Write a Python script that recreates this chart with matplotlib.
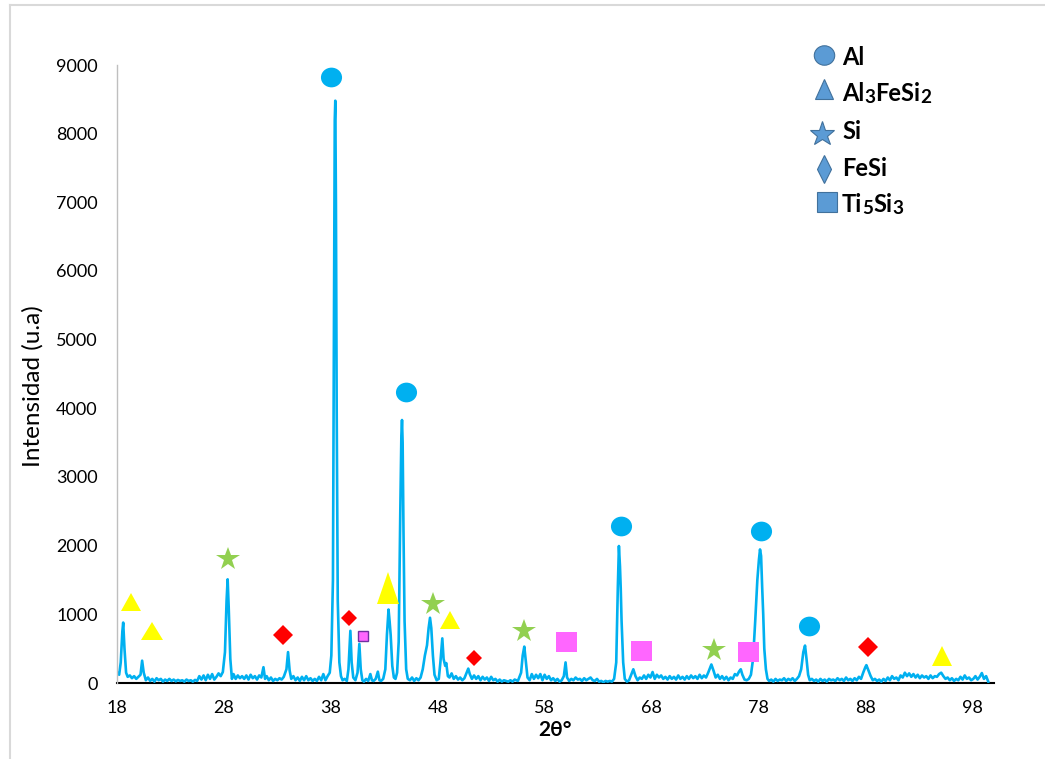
import matplotlib
matplotlib.use("Agg")
import matplotlib.pyplot as plt
from matplotlib.lines import Line2D
from matplotlib.markers import MarkerStyle
from matplotlib.transforms import Affine2D

plt.rcParams['font.family'] = ['Lato', 'DejaVu Sans']

# XRD trace (2theta in degrees, intensity in counts)
two_theta = [
    18.0, 18.2, 18.35, 18.5, 18.58, 18.7, 18.85, 19.0, 19.2, 19.4, 19.6, 19.8,
    20.0, 20.2, 20.35, 20.5, 20.7, 20.9, 21.1, 21.3, 21.5, 21.7, 21.9,
    22.1, 22.3, 22.5, 22.7, 22.9, 23.1, 23.3, 23.5, 23.7, 23.9,
    24.1, 24.3, 24.5, 24.7, 24.9, 25.1, 25.3, 25.5, 25.7, 25.9,
    26.1, 26.3, 26.5, 26.7, 26.9, 27.1, 27.3, 27.5, 27.7, 27.9,
    28.1, 28.25, 28.35, 28.45, 28.6, 28.75, 28.9, 29.1, 29.3, 29.5, 29.7, 29.9,
    30.1, 30.3, 30.5, 30.7, 30.9, 31.1, 31.3, 31.5, 31.7, 31.85,
    32.0, 32.2, 32.4, 32.6, 32.8, 33.0, 33.2, 33.4, 33.6, 33.85,
    34.0, 34.15, 34.3, 34.5, 34.7, 34.9, 35.1, 35.3, 35.5, 35.7, 35.9,
    36.1, 36.3, 36.5, 36.7, 36.9, 37.1, 37.3, 37.5, 37.7, 37.9,
    38.05, 38.2, 38.3, 38.37, 38.42, 38.48, 38.55, 38.65, 38.8, 38.95,
    39.1, 39.3, 39.5, 39.65, 39.83, 39.95, 40.1, 40.3, 40.5, 40.67, 40.8, 40.95,
    41.1, 41.3, 41.5, 41.7, 41.85, 42.0, 42.2, 42.4, 42.55, 42.7, 42.9,
    43.1, 43.25, 43.4, 43.5, 43.6, 43.75, 43.9, 44.05, 44.2, 44.35, 44.5,
    44.6, 44.66, 44.72, 44.8, 44.9, 45.05, 45.2, 45.4, 45.6, 45.8,
    46.0, 46.2, 46.4, 46.6, 46.8, 47.0, 47.15, 47.28, 47.4, 47.55, 47.7, 47.9,
    48.1, 48.25, 48.43, 48.55, 48.7, 48.8, 48.95, 49.1, 49.3, 49.5, 49.7, 49.9,
    50.1, 50.3, 50.5, 50.7, 50.86, 51.0, 51.2, 51.4, 51.6, 51.8,
    52.0, 52.2, 52.4, 52.6, 52.8, 53.0, 53.2, 53.4, 53.6, 53.8,
    54.0, 54.2, 54.4, 54.6, 54.8, 55.0, 55.2, 55.5, 55.8, 55.95,
    56.1, 56.25, 56.4, 56.6, 56.8, 57.0, 57.2, 57.4, 57.6, 57.8,
    58.0, 58.2, 58.4, 58.6, 58.8, 59.0, 59.2, 59.4, 59.6, 59.8, 59.96,
    60.1, 60.3, 60.5, 60.7, 60.9, 61.1, 61.3, 61.5, 61.7, 61.9,
    62.1, 62.3, 62.5, 62.7, 62.9, 63.1, 63.3, 63.5, 63.7, 63.9,
    64.1, 64.3, 64.5, 64.7, 64.85, 64.95, 65.05, 65.12, 65.2, 65.35, 65.5, 65.7, 65.9,
    66.1, 66.3, 66.5, 66.7, 66.9, 67.1, 67.3, 67.5, 67.7, 67.9,
    68.1, 68.3, 68.5, 68.7, 68.9, 69.1, 69.3, 69.5, 69.7, 69.9,
    70.1, 70.3, 70.5, 70.7, 70.9, 71.1, 71.3, 71.5, 71.7, 71.9,
    72.1, 72.3, 72.5, 72.7, 72.9, 73.1, 73.3, 73.6, 73.8,
    74.0, 74.2, 74.4, 74.6, 74.8, 75.0, 75.2, 75.4, 75.6, 75.8,
    76.0, 76.2, 76.35, 76.5, 76.7, 76.9, 77.1, 77.3, 77.5, 77.7, 77.9,
    78.05, 78.15, 78.25, 78.35, 78.45, 78.55, 78.7, 78.85, 79.0, 79.2, 79.4, 79.6, 79.8,
    80.0, 80.2, 80.4, 80.6, 80.8, 81.0, 81.2, 81.4, 81.6, 81.8,
    82.0, 82.2, 82.36, 82.5, 82.65, 82.8, 83.0, 83.2, 83.4, 83.6, 83.8,
    84.0, 84.2, 84.4, 84.6, 84.8, 85.0, 85.2, 85.4, 85.6, 85.8,
    86.0, 86.2, 86.4, 86.6, 86.8, 87.0, 87.2, 87.4, 87.6, 87.8,
    88.0, 88.1, 88.3, 88.5, 88.7, 88.9, 89.1, 89.3, 89.5, 89.7, 89.9,
    90.1, 90.3, 90.5, 90.7, 90.9, 91.1, 91.3, 91.5, 91.7, 91.9,
    92.1, 92.3, 92.5, 92.7, 92.9, 93.1, 93.3, 93.5, 93.7, 93.9,
    94.1, 94.3, 94.5, 94.7, 94.9, 95.1, 95.3, 95.5, 95.7, 95.9,
    96.1, 96.3, 96.5, 96.7, 96.9, 97.1, 97.3, 97.5, 97.7, 97.9,
    98.1, 98.3, 98.5, 98.7, 98.9, 99.1, 99.3, 99.5,
]
intensity = [
    160, 120, 300, 750, 880, 500, 150, 90, 110, 70, 100, 60,
    90, 120, 325, 150, 40, 80, 30, 60, 20, 70, 40,
    60, 20, 50, 30, 60, 30, 50, 25, 45, 30,
    40, 20, 50, 30, 40, 20, 45, 30, 100, 50,
    110, 40, 120, 60, 130, 50, 90, 140, 100, 160,
    450, 1200, 1510, 1100, 350, 60, 130, 60, 110, 70, 100, 60,
    110, 50, 120, 70, 100, 50, 110, 80, 230, 60,
    100, 40, 80, 30, 60, 40, 70, 50, 90, 200,
    450, 180, 60, 100, 40, 80, 30, 90, 40, 100, 40,
    70, 30, 60, 30, 90, 40, 130, 40, 100, 150,
    400, 1500, 5500, 8200, 8480, 7000, 4000, 1200, 300, 100,
    40, 60, 30, 200, 760, 300, 80, 40, 150, 570, 200, 40,
    20, 60, 30, 130, 40, 30, 60, 165, 40, 30, 60,
    200, 700, 1070, 900, 700, 250, 80, 60, 150, 600, 2500,
    3600, 3830, 3500, 2200, 900, 200, 60, 40, 80, 30,
    70, 40, 80, 200, 400, 550, 800, 950, 800, 400, 120, 40,
    60, 300, 650, 350, 250, 290, 100, 80, 140, 60, 100, 50,
    80, 40, 70, 150, 210, 130, 60, 110, 60, 100,
    40, 90, 50, 80, 30, 90, 40, 60, 20, 50,
    20, 40, 30, 20, 40, 20, 50, 30, 150, 400,
    530, 300, 80, 40, 130, 60, 120, 70, 130, 40,
    120, 60, 100, 40, 70, 30, 60, 20, 40, 100, 300,
    80, 30, 60, 40, 80, 50, 60, 30, 70, 40,
    60, 80, 40, 30, 60, 20, 30, 10, 30, 20,
    30, 20, 60, 300, 1400, 1995, 1700, 1380, 900, 300, 60, 20, 40,
    120, 200, 100, 40, 80, 60, 110, 60, 120, 80,
    160, 60, 120, 80, 110, 60, 90, 50, 100, 60,
    90, 50, 110, 60, 90, 50, 100, 60, 110, 70,
    100, 60, 120, 70, 110, 80, 150, 270, 180,
    80, 120, 60, 100, 50, 90, 40, 80, 60, 130,
    110, 170, 200, 120, 50, 40, 60, 120, 350, 900, 1500,
    1800, 1945, 1850, 1400, 1000, 500, 200, 60, 30, 50, 20, 60, 30,
    50, 40, 70, 30, 60, 40, 70, 30, 60, 100,
    200, 450, 545, 350, 120, 40, 60, 30, 50, 20, 60,
    30, 50, 20, 60, 40, 50, 30, 70, 40, 60,
    30, 80, 40, 60, 30, 70, 40, 90, 60, 150,
    230, 260, 180, 100, 40, 60, 30, 50, 20, 60, 30,
    80, 40, 100, 60, 80, 40, 110, 80, 150, 100,
    140, 90, 130, 80, 120, 70, 110, 80, 100, 60,
    110, 70, 100, 90, 130, 150, 100, 60, 80, 40,
    70, 30, 60, 40, 90, 50, 110, 60, 80, 40,
    60, 100, 50, 90, 145, 60, 100, 20,
]

# phase markers (position of each symbol, 2theta / counts)
al_x = [38.02, 45.03, 65.15, 78.24, 82.73]
al_y = [8825, 4238, 2286, 2213, 830]
al3fesi2_x = [19.27, 21.32, 43.37, 49.15, 95.19]
al3fesi2_y = [1180, 755, 1383, 922, 396]
si_x = [28.38, 47.6, 56.1, 73.8]
si_y = [1803, 1157, 760, 483]
fesi_x = [33.56, 39.67, 51.4, 88.24]
fesi_y = [706, 942, 364, 520]
ti5si3_x = [41.05, 60.02, 66.99, 77.0]
ti5si3_y = [687, 593, 470, 448]

x_ticks = [18, 28, 38, 48, 58, 68, 78, 88, 98]
y_ticks = [0, 1000, 2000, 3000, 4000, 5000, 6000, 7000, 8000, 9000]

W, H = 1045, 759
fig = plt.figure(figsize=(W / 100, H / 100), dpi=100)
ax = fig.add_axes([117 / W, 1 - 683 / H, (993.6 - 117) / W, (683 - 65) / H])

line_col = '#00B0F0'
ax.plot(two_theta, intensity, color=line_col, lw=1.9, zorder=2, solid_joinstyle='round')

def mk(base, sx=1.0, sy=1.0):
    return MarkerStyle(base, transform=Affine2D().scale(sx, sy))

ax.plot(al_x, al_y, ls='none', marker=mk('o', 1.07, 1.0), ms=14.2,
        mfc=line_col, mec=line_col, mew=0, zorder=3)

tri_sizes = [(13.7, 0.97), (15.5, 0.88), (15.5, 1.5), (15.0, 0.9), (15.0, 0.95)]
for x, y, (s, sy) in zip(al3fesi2_x, al3fesi2_y, tri_sizes):
    ax.plot([x], [y], ls='none', marker=mk('^', 1.0, sy), ms=s,
            mfc='#FFFF00', mec='#FFFF00', mew=0, zorder=3)

ax.plot(si_x, si_y, ls='none', marker='*', ms=17.6,
        mfc='#92D050', mec='#92D050', mew=0, zorder=3)

d_sizes = [10.6, 8.2, 8.2, 10.6]
for x, y, s in zip(fesi_x, fesi_y, d_sizes):
    ax.plot([x], [y], ls='none', marker='D', ms=s,
            mfc='#FF0000', mec='#FF0000', mew=0, zorder=3)

for i, (x, y) in enumerate(zip(ti5si3_x, ti5si3_y)):
    if i == 0:
        ax.plot([x], [y], ls='none', marker='s', ms=7.6,
                mfc='#FF66FF', mec='#7030A0', mew=1.0, zorder=3)
    else:
        ax.plot([x], [y], ls='none', marker=mk('s', 1.08, 1.0), ms=14.0,
                mfc='#FF66FF', mec='#FF66FF', mew=0, zorder=3)

ax.set_xlim(18, 100)
ax.set_ylim(0, 9000)
ax.set_xticks(x_ticks)
ax.set_yticks(y_ticks)
ax.tick_params(length=0, labelsize=13, colors='#000000')
ax.tick_params(axis='y', pad=14)
ax.tick_params(axis='x', pad=12)
for sp in ['top', 'right']:
    ax.spines[sp].set_visible(False)
ax.spines['left'].set_color('#BFBFBF')
ax.spines['left'].set_linewidth(1.0)
ax.spines['bottom'].set_color('#000000')
ax.spines['bottom'].set_linewidth(1.5)
ax.spines['bottom'].set_zorder(1)

fig.text(33 / W, 1 - 386 / H, 'Intensidad (u.a)', rotation=90, fontsize=17.5,
         ha='center', va='center')
fig.text(555 / W, 1 - 730 / H, '2θ°', fontsize=15, fontweight='bold',
         ha='center', va='center')

# light frame lines at top and left of the picture
fig.add_artist(Line2D([10 / W, 1], [1 - 5 / H, 1 - 5 / H], color='#D9D9D9', lw=1.5))
fig.add_artist(Line2D([10 / W, 10 / W], [0, 1 - 5 / H], color='#D9D9D9', lw=1.5))

# legend drawn by hand
leg_fc, leg_ec = '#5B9BD5', '#41719C'
leg_items = [
    ('o', 824, 55, 14.0, 1.05, 1.0, [('Al', 1.0)]),
    ('^', 824, 89, 13.2, 1.0, 1.05, [('Al', 1.0), ('3', 0.8), ('FeSi', 1.0), ('2', 0.8)]),
    ('*', 822, 134, 18.5, 1.0, 1.0, [('Si', 1.0)]),
    ('d', 824, 169, 14.0, 0.9, 1.0, [('FeSi', 1.0)]),
    ('s', 827, 202, 13.8, 1.05, 1.0, [('Ti', 1.0), ('5', 0.8), ('Si', 1.0), ('3', 0.8)]),
]
baselines = [65, 101, 139, 176, 212]
renderer = fig.canvas.get_renderer()
fs = 17
for (m, mx, my, ms, sx, sy, parts), by in zip(leg_items, baselines):
    fig.add_artist(Line2D([mx / W], [1 - my / H], ls='none', marker=mk(m, sx, sy), ms=ms,
                          mfc=leg_fc, mec=leg_ec, mew=0.8))
    xp = 842
    for txt, scale in parts:
        off = 2 if scale < 1 else 0
        t = fig.text(xp / W, 1 - (by + off) / H, txt, fontsize=fs * scale,
                     fontweight='bold', ha='left', va='baseline')
        xp += t.get_window_extent(renderer).width

fig.savefig('out.png', dpi=100)
